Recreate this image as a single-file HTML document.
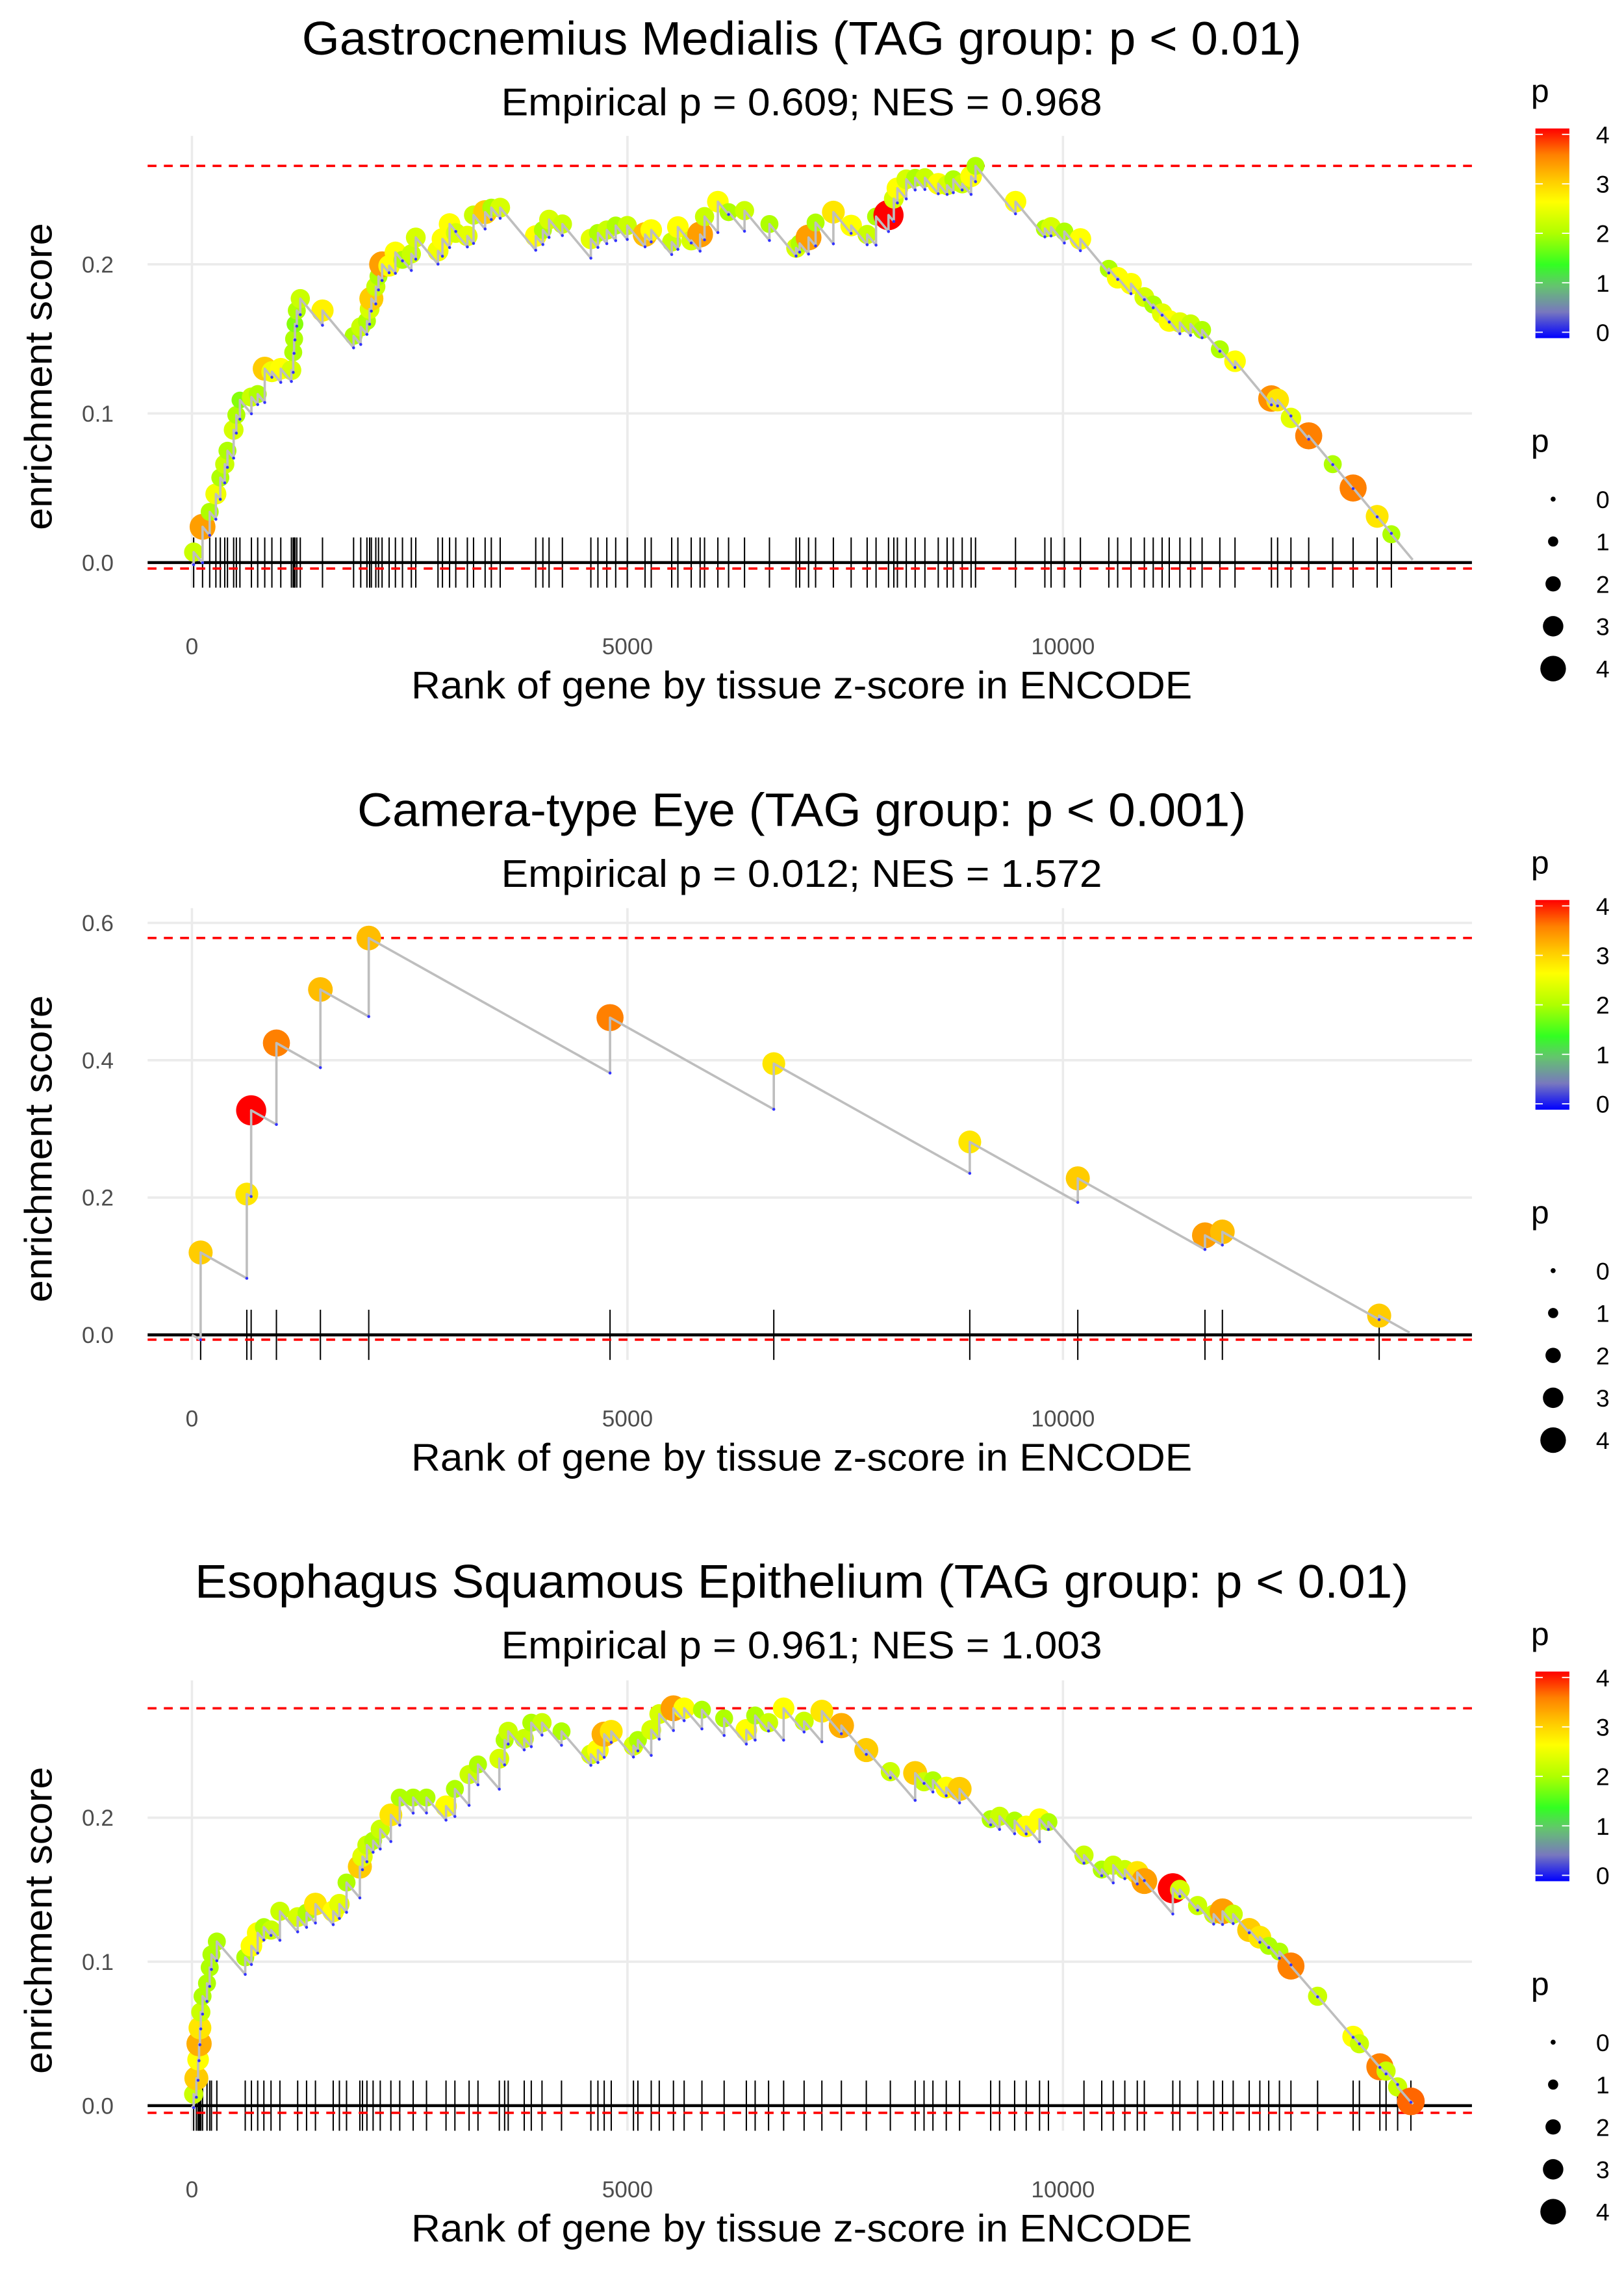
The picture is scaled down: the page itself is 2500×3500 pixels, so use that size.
<!DOCTYPE html>
<html><head><meta charset="utf-8"><style>
html,body{margin:0;padding:0;background:#fff;}
svg{display:block;font-family:"Liberation Sans",Arial,sans-serif;}
</style></head><body>
<svg id="chart" xmlns="http://www.w3.org/2000/svg" width="2500" height="3500" viewBox="0 0 1100 1540" preserveAspectRatio="none"></svg>
<script>
// ---------- DATA ----------
const xTicks = [0, 5000, 10000];
const titles = ["Gastrocnemius Medialis (TAG group: p < 0.01)", "Camera-type Eye (TAG group: p < 0.001)", "Esophagus Squamous Epithelium (TAG group: p < 0.01)"];
const subtitles = ["Empirical p = 0.609; NES = 0.968", "Empirical p = 0.012; NES = 1.572", "Empirical p = 0.961; NES = 1.003"];
const yTicks1 = [0, 0.1, 0.2];
const yTicks2 = [0, 0.2, 0.4, 0.6];
const yTicks3 = [0, 0.1, 0.2];
const yTickLabels1 = ["0.0", "0.1", "0.2"];
const yTickLabels2 = ["0.0", "0.2", "0.4", "0.6"];
const yTickLabels3 = ["0.0", "0.1", "0.2"];
const legendTicks = [0, 1, 2, 3, 4];
const totalGenes = [14015, 13980, 14020];
const missPenalty = [7e-5, 7.1e-5, 7e-5];
const minES = [-0.004, -0.007, -0.005];

const p1Ranks = [20,122,204,275,326,377,408,479,510,551,683,755,836,918,1020,1142,1163,1173,1183,1204,1244,1499,1856,1938,2009,2040,2060,2111,2142,2183,2264,2336,2417,2519,2570,2825,2876,2958,3029,3162,3233,3366,3437,3539,3947,4029,4100,4253,4580,4661,4763,4865,4998,5202,5273,5508,5579,5732,5834,5885,6038,6161,6344,6630,6936,6977,7079,7160,7364,7568,7752,7854,7997,8058,8099,8201,8303,8415,8568,8670,8741,8843,8945,8996,9455,9792,9863,10016,10200,10526,10628,10781,10934,11036,11138,11220,11342,11465,11597,11801,11975,12393,12464,12617,12821,13097,13331,13607,13770];
const p1ES = [0.007,0.024,0.034,0.046,0.057,0.066,0.075,0.089,0.099,0.109,0.111,0.113,0.130,0.128,0.130,0.129,0.141,0.150,0.160,0.169,0.177,0.169,0.152,0.158,0.162,0.170,0.177,0.185,0.192,0.200,0.199,0.208,0.203,0.207,0.218,0.209,0.217,0.227,0.221,0.219,0.233,0.235,0.238,0.238,0.219,0.223,0.230,0.227,0.217,0.221,0.223,0.226,0.226,0.220,0.223,0.215,0.225,0.216,0.220,0.232,0.242,0.235,0.236,0.227,0.211,0.214,0.218,0.228,0.235,0.226,0.220,0.232,0.233,0.244,0.251,0.257,0.258,0.258,0.254,0.253,0.257,0.254,0.259,0.266,0.242,0.224,0.225,0.222,0.217,0.197,0.191,0.187,0.178,0.173,0.167,0.162,0.161,0.160,0.156,0.143,0.135,0.110,0.109,0.097,0.085,0.066,0.050,0.031,0.019];
const p1P = [2.2,3.3,2,2.5,2,2.2,2,2.3,2,1.8,2.2,2,3,2.5,2.6,2.3,2,2,1.8,2,2.2,2.7,2,2.2,2,2.3,3,2.2,2,3.3,2.6,2.6,2,2.2,2.3,2.5,2.6,2.6,2.3,2.4,2.2,3,2,2.3,2.6,2,2.3,2.2,2.4,2,2.2,2,2.2,3.1,2.6,2.2,2.6,2.3,3.3,2.2,2.6,2,2.2,2,2.3,2,3.3,2,2.8,2.6,2.2,2,4,2.3,2.6,2.3,2,2.2,2.6,2.3,2,2.2,2.6,2,2.6,2,2.3,2,2.6,2,2.6,2.6,2.3,2,2.4,2.6,2.4,2.2,2,2,2.6,3.4,2.8,2.4,3.5,2,3.5,2.8,2];

const p2Ranks = [100,630,680,970,1475,2030,4800,6680,8930,10170,11630,11830,13630];
const p2ES = [0.120,0.205,0.327,0.425,0.503,0.578,0.462,0.395,0.281,0.228,0.145,0.150,0.028];
const p2P = [3.0,2.8,4.0,3.5,3.1,3.1,3.5,2.8,2.8,3.0,3.3,3.1,3.0];

const p3Ranks = [20,51,71,82,92,102,122,173,204,224,286,612,683,755,826,908,1010,1214,1316,1418,1622,1693,1775,1928,1958,2009,2080,2162,2284,2386,2540,2693,2917,3019,3182,3284,3529,3590,3631,3815,3896,4019,4243,4580,4661,4733,4814,5069,5120,5273,5365,5528,5651,5855,6110,6365,6466,6620,6793,7028,7232,7456,7742,8018,8303,8405,8507,8660,8813,9170,9272,9445,9578,9731,9833,10241,10445,10577,10710,10853,10934,11261,11342,11546,11730,11832,11954,12138,12260,12362,12485,12617,12923,13331,13403,13638,13709,13842,13994];
const p3ES = [0.008,0.019,0.032,0.043,0.054,0.065,0.076,0.085,0.096,0.105,0.114,0.103,0.111,0.120,0.124,0.122,0.135,0.131,0.134,0.140,0.135,0.140,0.155,0.166,0.173,0.181,0.184,0.192,0.202,0.214,0.214,0.214,0.208,0.220,0.230,0.237,0.241,0.254,0.260,0.255,0.266,0.266,0.260,0.244,0.247,0.258,0.260,0.250,0.254,0.261,0.272,0.276,0.276,0.275,0.269,0.261,0.271,0.266,0.276,0.267,0.274,0.264,0.247,0.232,0.231,0.225,0.226,0.221,0.220,0.199,0.201,0.198,0.194,0.199,0.197,0.174,0.164,0.167,0.164,0.162,0.156,0.151,0.150,0.139,0.133,0.135,0.133,0.122,0.117,0.111,0.107,0.097,0.076,0.048,0.043,0.027,0.024,0.013,0.003];
const p3P = [2.2,3,2.6,3.2,2.8,2.2,2,2,2,2,2,2,2.6,2.6,2,2.2,2.2,2.3,2,2.8,2.6,2.4,2,3,2.4,2.2,2,2.2,2.8,2,2,2,2.6,2,2.2,2,2.3,2,2.2,2.2,2,2.2,2,2.3,2.6,3.2,2.8,2.3,2,2.3,2.3,3.3,2.6,2,2,2.6,2,2.2,2.6,2.2,2.8,3.2,3,2.2,3,2.2,2,2.6,3,2,2.2,2,2.6,2.6,2,2.2,2,2.2,2.2,2.8,3.3,4,2.3,2.2,2.2,3.3,2.2,3,2.8,2,2,3.5,2.2,2.6,2.2,3.5,2.2,2.2,3.6];

// ---------- RENDER ----------
const NS = "http://www.w3.org/2000/svg";
const svg = document.getElementById("chart");
function mk(tag, attrs, parent) {
  const e = document.createElementNS(NS, tag);
  for (const k in attrs) e.setAttribute(k, attrs[k]);
  (parent || svg).appendChild(e);
  return e;
}
const stops = [[0,[0,0,255]],[0.5,[120,120,190]],[1,[100,196,110]],[1.4,[50,255,34]],[2,[175,255,0]],[2.6,[255,255,0]],[3,[255,204,0]],[3.5,[255,128,0]],[4,[255,0,0]]];
function pColor(p) {
  for (let i = 1; i < stops.length; i++) {
    if (p <= stops[i][0]) {
      const a = stops[i-1], b = stops[i], t = (p - a[0]) / (b[0] - a[0]);
      const c = a[1].map((v, j) => Math.round(v + (b[1][j] - v) * t));
      return "rgb(" + c.join(",") + ")";
    }
  }
  return "rgb(255,0,0)";
}
function pRadius(p) { return 2 + 2.05 * p; }
const X0 = 130, XK = 0.059;
function xs(r) { return X0 + r * XK; }

const titleWidths = [677, 602, 822];
const panels = [
  {ranks:p1Ranks, es:p1ES, p:p1P, yTicks:yTicks1, yLabels:yTickLabels1, yZero:381, yScale:1010, top:92, bottom:398},
  {ranks:p2Ranks, es:p2ES, p:p2P, yTicks:yTicks2, yLabels:yTickLabels2, yZero:904, yScale:465, top:615, bottom:921},
  {ranks:p3Ranks, es:p3ES, p:p3P, yTicks:yTicks3, yLabels:yTickLabels3, yZero:1426, yScale:975, top:1138, bottom:1443}
];

panels.forEach((pn, k) => {
  const off = k * 522.5;
  const ys = v => pn.yZero - v * pn.yScale;
  const g = mk("g", {});
  
  

  const t = mk("text", {x:543, y:37 + off, "font-size":32, "text-anchor":"middle", fill:"#000", textLength:titleWidths[k], lengthAdjust:"spacingAndGlyphs"}, g);
  
  
  t.textContent = titles[k];
  const st = mk("text", {x:543, y:78 + off, "font-size":26, "text-anchor":"middle", fill:"#000", textLength:407, lengthAdjust:"spacingAndGlyphs"}, g);
  
  
  st.textContent = subtitles[k];

  pn.yTicks.forEach((v, i) => {
    const gl = mk("line", {x1:100, x2:997, y1:ys(v), y2:ys(v), stroke:"#ebebeb", "stroke-width":1.6}, g);
    
    
    const tl = mk("text", {x:77, y:ys(v) + 5.5, "font-size":15.5, "text-anchor":"end", fill:"#4d4d4d"}, g);
    
    
    tl.textContent = pn.yLabels[i];
  });
  xTicks.forEach(v => {
    const gl = mk("line", {x1:xs(v), x2:xs(v), y1:pn.top, y2:pn.bottom, stroke:"#ebebeb", "stroke-width":1.6}, g);
    
    
    const tl = mk("text", {x:xs(v), y:pn.bottom + 45, "font-size":15.5, "text-anchor":"middle", fill:"#4d4d4d"}, g);
    
    
    tl.textContent = String(v);
  });
  const xt = mk("text", {x:543, y:pn.bottom + 75, "font-size":26, "text-anchor":"middle", fill:"#000", textLength:529, lengthAdjust:"spacingAndGlyphs"}, g);
  
  
  xt.textContent = "Rank of gene by tissue z-score in ENCODE";
  const cy = (pn.top + pn.bottom) / 2 + 10;
  const yt = mk("text", {x:0, y:0, "font-size":26, "text-anchor":"middle", fill:"#000", textLength:208, lengthAdjust:"spacingAndGlyphs", transform:"translate(35," + cy + ") rotate(-90)"}, g);
  
  
  yt.textContent = "enrichment score";

  pn.ranks.forEach(r => {
    const rl = mk("line", {x1:xs(r), x2:xs(r), y1:pn.yZero - 17, y2:pn.yZero + 17, stroke:"#000", "stroke-width":0.9}, g);
    
    
  });
  const zl = mk("line", {x1:100, x2:997, y1:pn.yZero, y2:pn.yZero, stroke:"#000", "stroke-width":2}, g);
  
  
  const maxES = Math.max.apply(null, pn.es);
  const rt = mk("line", {x1:100, x2:997, y1:ys(maxES), y2:ys(maxES), stroke:"#ff0000", "stroke-width":1.6, "stroke-dasharray":"6,5"}, g);
  
  
  const rb = mk("line", {x1:100, x2:997, y1:ys(minES[k]), y2:ys(minES[k]), stroke:"#ff0000", "stroke-width":1.6, "stroke-dasharray":"6,5"}, g);
  
  

  pn.ranks.forEach((r, i) => {
    const c = mk("circle", {cx:xs(r), cy:ys(pn.es[i]), r:pRadius(pn.p[i]), fill:pColor(pn.p[i])}, g);
    
    
  });
  let d = "M" + xs(0) + "," + ys(0);
  let prevR = 0, prevE = 0;
  const troughs = [];
  pn.ranks.forEach((r, i) => {
    const tr = prevE - missPenalty[k] * (r - prevR);
    troughs.push([r, tr]);
    d += " L" + xs(r) + "," + ys(tr) + " L" + xs(r) + "," + ys(pn.es[i]);
    prevR = r; prevE = pn.es[i];
  });
  const endE = Math.max(0, prevE - missPenalty[k] * (totalGenes[k] - prevR));
  d += " L" + xs(totalGenes[k]) + "," + ys(endE);
  const path = mk("path", {d:d, fill:"none", stroke:"#bebebe", "stroke-width":1.6, "stroke-linejoin":"round"}, g);
  
  
  troughs.forEach(tp => {
    const c = mk("circle", {cx:xs(tp[0]), cy:ys(tp[1]), r:1, fill:"#3333ff"}, g);
    
    
  });

  const lg = mk("g", {}, g);
  
  
  const lp = mk("text", {x:1037, y:69 + off, "font-size":22, fill:"#000"}, lg);
  
  
  lp.textContent = "p";
  const gid = "grad" + k;
  const defs = mk("defs", {}, lg);
  const lgd = mk("linearGradient", {id:gid, x1:0, y1:1, x2:0, y2:0}, defs);
  stops.forEach(s => {
    mk("stop", {offset:(s[0] / 4), "stop-color":pColor(s[0])}, lgd);
  });
  const y0 = 225 + off, y4 = 91 + off;
  const bar = mk("rect", {x:1040, y:y4 - 4, width:23, height:(y0 - y4) + 8, fill:"url(#" + gid + ")"}, lg);
  
  
  legendTicks.forEach(v => {
    const yy = y0 - (y0 - y4) * v / 4;
    mk("line", {x1:1040, x2:1045, y1:yy, y2:yy, stroke:"#fff", "stroke-width":0.8}, lg);
    mk("line", {x1:1058, x2:1063, y1:yy, y2:yy, stroke:"#fff", "stroke-width":0.8}, lg);
    const tl = mk("text", {x:1081, y:yy + 6, "font-size":16.5, fill:"#000"}, lg);
    
    
    tl.textContent = String(v);
  });
  const sg = mk("g", {}, g);
  
  
  const sp = mk("text", {x:1037, y:306 + off, "font-size":22, fill:"#000"}, sg);
  
  
  sp.textContent = "p";
  legendTicks.forEach((v, i) => {
    const yy = 338 + off + i * 28.7;
    const c = mk("circle", {cx:1052, cy:yy, r:pRadius(v) * 0.85, fill:"#000"}, sg);
    
    
    const tl = mk("text", {x:1081, y:yy + 6, "font-size":16.5, fill:"#000"}, sg);
    
    
    tl.textContent = String(v);
  });
});
</script>
</body></html>
